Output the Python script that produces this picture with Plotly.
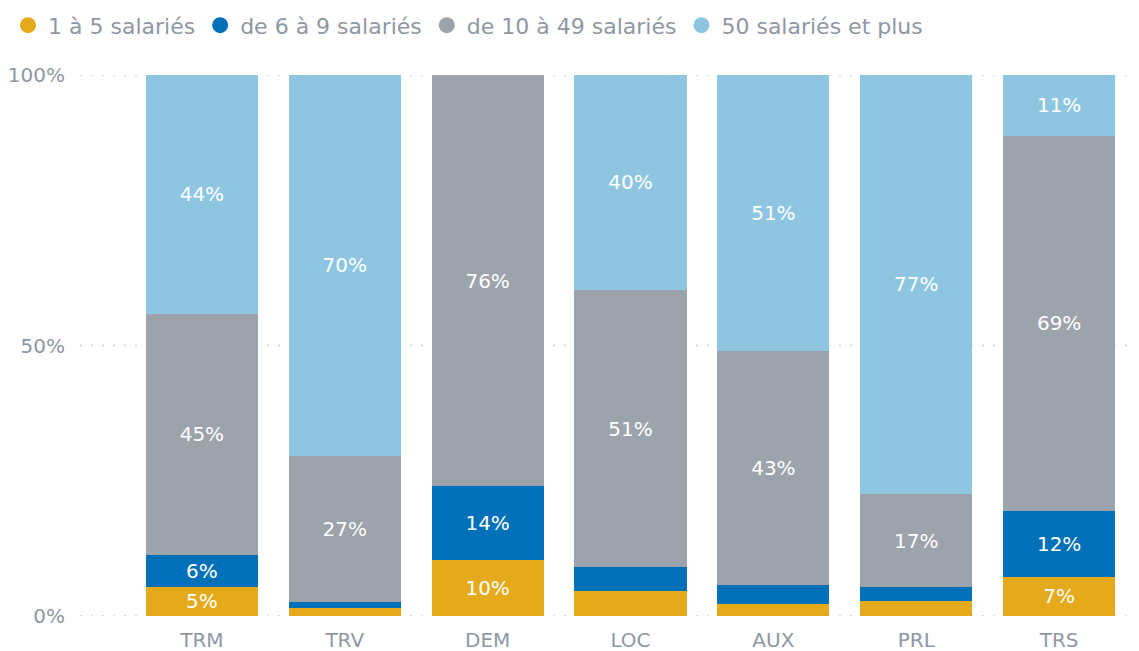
import plotly.graph_objects as go

categories = ["TRM", "TRV", "DEM", "LOC", "AUX", "PRL", "TRS"]
series_names = ["1 à 5 salariés", "de 6 à 9 salariés", "de 10 à 49 salariés", "50 salariés et plus"]
s1 = [5.4, 1.5, 10.3, 4.7, 2.2, 2.8, 7.3]
s2 = [5.9, 1.1, 13.7, 4.3, 3.5, 2.5, 12.1]
s3 = [44.6, 27.0, 76.0, 51.3, 43.3, 17.3, 69.4]
s4 = [44.1, 70.4, 0.0, 39.7, 51.0, 77.4, 11.2]
colors = ["#E4AA1B", "#0070B8", "#9CA3AB", "#8EC6E2"]
ytick_vals = [0, 50, 100]
ytick_text = ["0%", "50%", "100%"]

FONT = "DejaVu Sans"
GRAY = "#8E98A3"
GRID = "#CFCFCF"

fig = go.Figure()
for name, vals, col in zip(series_names, [s1, s2, s3, s4], colors):
    txt = [f"{round(v)}%" if v >= 5 else "" for v in vals]
    fig.add_trace(go.Bar(
        x=categories, y=vals, name=name, marker=dict(color=col, line=dict(width=0)),
        text=txt, textposition="inside", insidetextanchor="middle", textangle=0,
        textfont=dict(color="white", size=20, family=FONT),
        showlegend=False, hoverinfo="skip",
    ))
    fig.add_trace(go.Scatter(
        x=[None], y=[None], mode="markers", name=name,
        marker=dict(color=col, size=18, symbol="circle"),
    ))

# dotted gridlines at every tick (including the range edges), drawn below the bars
for v in ytick_vals:
    fig.add_shape(type="line", xref="paper", x0=0, x1=1, yref="y", y0=v, y1=v,
                  line=dict(color=GRID, width=1.5, dash="2px,9px"), layer="below")

# The page body adds an 8px margin, so the figure is 8px smaller and shifted.
fig.update_layout(
    barmode="stack",
    bargap=0.215,
    width=1131, height=643,
    margin=dict(l=72, r=7, t=67, b=35, autoexpand=False),
    paper_bgcolor="white", plot_bgcolor="white",
    font=dict(family=FONT, color=GRAY, size=20),
    uniformtext=dict(minsize=20, mode="show"),
    legend=dict(orientation="h", xref="container", x=0, xanchor="left",
                yref="container", y=0.973, yanchor="middle", traceorder="normal",
                font=dict(size=22, color=GRAY, family=FONT), itemwidth=30, tracegroupgap=0,
                bgcolor="rgba(0,0,0,0)"),
    xaxis=dict(range=[-0.853, 6.51], showgrid=False, zeroline=False, showline=False,
               ticks="", tickfont=dict(size=20, color=GRAY), ticklabelstandoff=10),
    yaxis=dict(range=[0, 100], tickvals=ytick_vals, ticktext=ytick_text,
               showgrid=False, zeroline=False, showline=False, ticks="",
               tickfont=dict(size=20, color=GRAY), ticklabelstandoff=14),
)

fig.write_html("out.html")
